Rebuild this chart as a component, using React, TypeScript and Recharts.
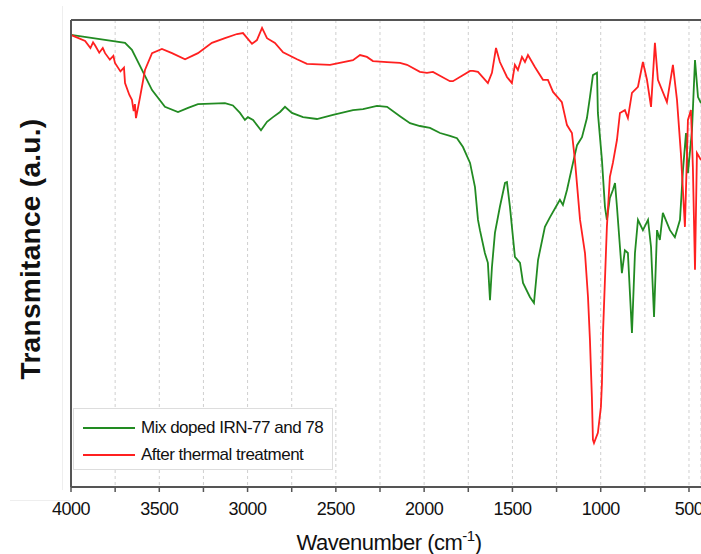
import React from 'react'
import { LineChart, Line, XAxis, YAxis, CartesianGrid, ReferenceLine } from 'recharts'

// FTIR spectra, wavenumber (cm-1) vs transmittance (a.u., 0-100 on the plot frame)
const greenWavenumbers = [
  4000, 3694, 3655, 3598, 3541, 3468, 3394, 3337, 3281, 3128, 3083, 3043, 3015, 2998, 2969, 2924, 2890, 2856,
  2816, 2788, 2749, 2686, 2607, 2516, 2403, 2346, 2267, 2210, 2137, 2080, 2024, 1967, 1910, 1854, 1814, 1780,
  1740, 1712, 1695, 1684, 1656, 1639, 1627, 1616, 1599, 1571, 1542, 1531, 1514, 1486, 1457, 1440, 1401, 1378,
  1355, 1316, 1287, 1248, 1231, 1214, 1191, 1157, 1134, 1106, 1078, 1061, 1044, 1021, 1016, 993, 976, 965, 948,
  931, 919, 908, 891, 880, 863, 846, 823, 806, 789, 761, 732, 715, 698, 681, 665, 648, 608, 580, 551, 534, 517,
  506, 483, 466, 449, 432,
]
const greenTransmittance = [
  96.8, 95.1, 93.6, 89.3, 85.0, 81.4, 80.3, 81.2, 82.0, 82.2, 81.7, 80.1, 78.6, 79.2, 78.6, 76.4, 78.2, 79.2,
  80.3, 81.4, 80.1, 79.2, 78.8, 79.7, 80.7, 80.9, 81.6, 81.4, 79.4, 77.9, 77.3, 76.9, 75.8, 75.2, 74.7, 72.8,
  69.4, 64.2, 57.2, 55.0, 50.1, 48.0, 40.0, 47.1, 54.4, 60.0, 65.1, 65.3, 60.0, 49.3, 48.0, 43.7, 40.7, 39.4,
  48.6, 55.7, 57.8, 60.4, 61.5, 60.4, 63.6, 69.4, 73.2, 74.9, 79.0, 83.5, 88.2, 88.7, 80.1, 70.0, 60.0, 57.2, 61.9,
  63.6, 65.1, 60.0, 51.4, 45.8, 50.7, 50.1, 33.0, 50.1, 57.2, 55.0, 57.2, 51.4, 36.4, 55.0, 52.9, 58.7, 55.0, 53.5, 57.2, 67.9, 75.8,
  67.2, 76.4, 91.4, 83.5, 82.2,
]

const redWavenumbers = [
  4000, 3920, 3890, 3875, 3864, 3840, 3820, 3807, 3780, 3760, 3751, 3720, 3700, 3694, 3670, 3655, 3645, 3638,
  3632, 3609, 3581, 3541, 3485, 3428, 3354, 3281, 3202, 3128, 3060, 3026, 2975, 2947, 2918, 2890, 2845, 2799,
  2720, 2664, 2533, 2403, 2363, 2324, 2290, 2210, 2137, 2097, 2024, 1984, 1950, 1854, 1837, 1740, 1723, 1695,
  1639, 1616, 1593, 1571, 1531, 1503, 1486, 1469, 1446, 1429, 1412, 1372, 1327, 1299, 1270, 1231, 1220, 1191,
  1163, 1146, 1117, 1089, 1072, 1061, 1050, 1044, 1038, 1016, 999, 993, 987, 965, 948, 931, 908, 891, 863, 846,
  823, 789, 761, 738, 715, 693, 676, 625, 591, 568, 546, 523, 506, 489, 478, 466, 455, 432,
]
const redTransmittance = [
  96.8, 95.5, 94.0, 95.2, 94.6, 93.0, 94.0, 92.9, 91.5, 92.3, 90.8, 89.0, 89.8, 86.5, 84.0, 82.9, 80.5, 82.0,
  79.0, 83.5, 89.3, 92.9, 93.8, 92.9, 91.6, 92.9, 95.1, 96.1, 97.0, 97.2, 94.9, 95.7, 98.3, 96.1, 95.1, 93.1,
  91.6, 90.6, 90.4, 91.4, 92.5, 92.1, 91.2, 91.0, 90.8, 90.4, 88.9, 88.7, 88.9, 86.9, 86.9, 89.1, 89.1, 88.9,
  86.5, 88.7, 94.0, 91.0, 87.8, 86.5, 90.4, 89.3, 92.1, 91.0, 92.5, 89.9, 87.2, 87.2, 84.6, 82.9, 82.4, 77.5,
  75.8, 70.0, 57.2, 50.1, 40.7, 31.5, 19.3, 10.1, 9.4, 11.6, 17.1, 22.3, 33.0, 55.7, 66.4, 69.4, 74.3, 80.1, 80.7, 79.0,
  84.4, 85.7, 91.0, 87.2, 81.4, 95.1, 87.2, 82.4, 90.4, 82.9, 71.5, 55.7, 78.6, 80.7, 68.5, 46.5, 71.5, 70.0,
]

const xTicks = [4000, 3750, 3500, 3250, 3000, 2750, 2500, 2250, 2000, 1750, 1500, 1250, 1000, 750, 500]
const seriesNames = ['Mix doped IRN-77 and 78', 'After thermal treatment']
const seriesColors = ['#228b22', '#ff2020']

const greenData = greenWavenumbers.map((wn, i) => ({ wn, t: greenTransmittance[i] }))
const redData = redWavenumbers.map((wn, i) => ({ wn, t: redTransmittance[i] }))

const AXIS = '#555'
const FONT = '"Liberation Sans", Arial, sans-serif'

const XLabel = ({ viewBox }: any) => (
  <text x={viewBox.x + viewBox.width / 2 + 3} y={viewBox.y + 63} textAnchor="middle" fontFamily={FONT} fontSize={22} letterSpacing={-0.5} fill="#111">
    Wavenumber (cm
    <tspan fontSize={15} dy={-9}>-1</tspan>
    <tspan dy={9}>)</tspan>
  </text>
)

const YLabel = () => (
  <text
    x={0}
    y={0}
    transform="translate(40, 249) rotate(-90)"
    textAnchor="middle"
    fontFamily={FONT}
    fontSize={28}
    fontWeight="bold"
    letterSpacing={0.3}
    fill="#111"
  >
    Transmitance (a.u.)
  </text>
)

// legend drawn as an overlay so it doesn't eat plot height
const LegendBox = () => (
  <div
    style={{
      position: 'absolute',
      left: 73,
      top: 408,
      width: 260,
      height: 62,
      border: '1px solid #ddd',
      background: '#fff',
      padding: '5px 0 0 9px',
      boxSizing: 'border-box',
    }}
  >
    {seriesNames.map((name, i) => (
      <div key={name} style={{ display: 'flex', alignItems: 'center', height: 27 }}>
        <span style={{ display: 'inline-block', width: 52, height: 2, background: seriesColors[i], marginRight: 6 }} />
        <span style={{ fontFamily: FONT, fontSize: 17, letterSpacing: -0.5, color: '#111' }}>{name}</span>
      </div>
    ))}
  </div>
)

export default function App() {
  return (
    <div style={{ position: 'absolute', left: 0, top: 0, width: 701, height: 554, background: '#fff', overflow: 'hidden' }}>
      <div style={{ position: 'absolute', left: 62, top: 6, width: 1, height: 484, background: '#eee' }} />
      <div style={{ position: 'absolute', left: 10, top: 500, width: 60, height: 1, background: '#eee' }} />
      <LineChart width={701} height={554} margin={{ top: 20, right: 0, bottom: 0, left: 0 }}>
        <CartesianGrid horizontal={false} stroke="#cfcfcf" strokeDasharray="3 3" />
        <XAxis
          type="number"
          dataKey="wn"
          domain={[432, 4000]}
          reversed
          allowDataOverflow
          ticks={xTicks}
          interval={0}
          tickFormatter={(v: number) => (v % 500 === 0 ? String(v) : '')}
          tick={{ fill: '#111', fontSize: 18, fontFamily: FONT, letterSpacing: -0.5 }}
          tickSize={5}
          tickMargin={10}
          tickLine={{ stroke: AXIS, strokeWidth: 1.5 }}
          axisLine={{ stroke: AXIS, strokeWidth: 2 }}
          height={67}
          label={<XLabel />}
        />
        <YAxis
          type="number"
          domain={[0, 100]}
          width={71}
          tick={false}
          tickLine={false}
          axisLine={{ stroke: AXIS, strokeWidth: 2 }}
          label={<YLabel />}
        />
        <ReferenceLine y={100} stroke={AXIS} strokeWidth={2} />
        <Line
          data={greenData}
          dataKey="t"
          name={seriesNames[0]}
          type="linear"
          stroke={seriesColors[0]}
          strokeWidth={1.8}
          dot={false}
          isAnimationActive={false}
        />
        <Line
          data={redData}
          dataKey="t"
          name={seriesNames[1]}
          type="linear"
          stroke={seriesColors[1]}
          strokeWidth={1.8}
          dot={false}
          isAnimationActive={false}
        />
      </LineChart>
      <LegendBox />
    </div>
  )
}
